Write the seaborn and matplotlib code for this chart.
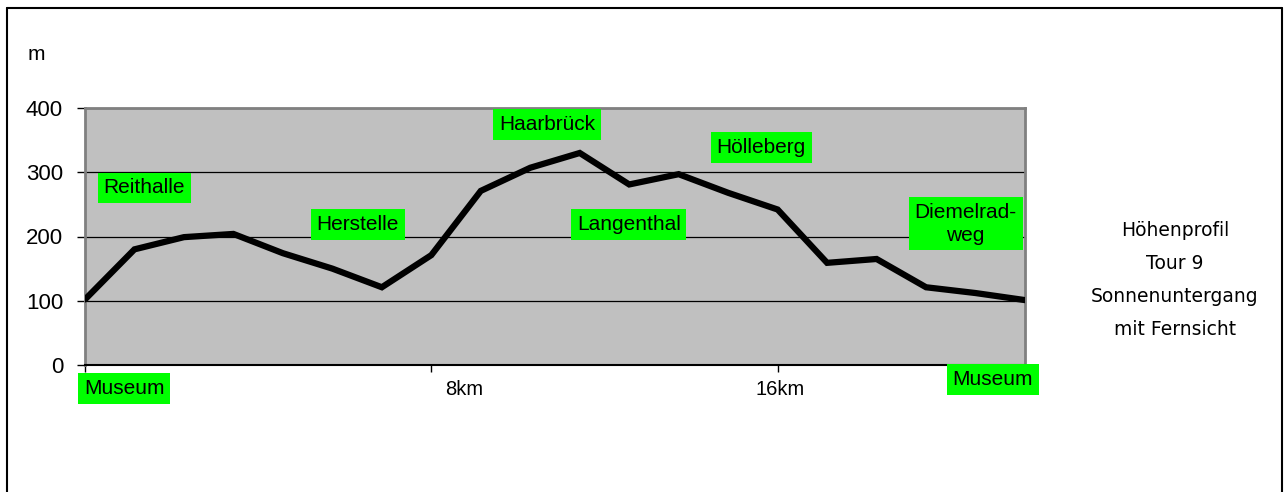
import matplotlib
matplotlib.use("Agg")
import matplotlib.pyplot as plt
import pandas as pd
import seaborn as sns
from matplotlib.lines import Line2D
from matplotlib.ticker import FixedLocator, NullFormatter, FixedFormatter

# ---- data ----
point_index = list(range(20))
elevation_m = [102, 180, 199, 204, 174, 150, 121, 171, 271, 307,
               330, 281, 297, 268, 242, 159, 165, 121, 112, 101]
y_ticks = [0, 100, 200, 300, 400]
km_tick_points = [0, 7, 14]
km_labels = ["8km", "16km"]
km_label_points = [7.66, 14.05]
place_names = ["Museum", "Reithalle", "Herstelle", "Haarbrück", "Langenthal",
               "Hölleberg", "Diemelrad-\nweg", "Museum"]
place_x = [0.79, 1.20, 5.51, 9.34, 10.99, 13.67, 17.80, 18.35]
place_y = [-36.6, 275.5, 218.7, 374, 218.7, 338.5, 220, -22.6]
title_lines = ["Höhenprofil", "Tour 9", "Sonnenuntergang", "mit Fernsicht"]

df = pd.DataFrame({"point": point_index, "elevation": elevation_m})

sns.set_style("white")
plt.rcParams["font.family"] = ["Liberation Sans", "DejaVu Sans"]
plt.rcParams["text.color"] = "black"
plt.rcParams["xtick.color"] = "black"
plt.rcParams["ytick.color"] = "black"
plt.rcParams["xtick.labelcolor"] = "black"
plt.rcParams["ytick.labelcolor"] = "black"

W, H = 1285, 492
fig = plt.figure(figsize=(W / 100, H / 100), dpi=100)
fig.patch.set_facecolor("white")
ax = fig.add_axes([85 / W, 1 - 365 / H, 940 / W, 257 / H])
ax.set_facecolor("#C0C0C0")

sns.lineplot(data=df, x="point", y="elevation", color="black", linewidth=4.5,
             ax=ax, zorder=3, solid_joinstyle="miter")
ax.set_xlim(0, 19)
ax.set_ylim(0, 400)
ax.set_xlabel("")
ax.set_ylabel("")

# y axis
ax.set_yticks(y_ticks)
ax.set_yticklabels([str(v) for v in y_ticks], fontsize=16, color="black")
ax.tick_params(axis="y", direction="out", length=5.8, width=1, color="black",
               pad=10, left=True, labelcolor="black")
ax.yaxis.grid(True, color="black", linewidth=0.9, zorder=1)
ax.xaxis.grid(False)
ax.set_axisbelow(True)

# x axis
ax.xaxis.set_major_locator(FixedLocator(km_tick_points))
ax.xaxis.set_major_formatter(NullFormatter())
ax.xaxis.set_minor_locator(FixedLocator(km_label_points))
ax.xaxis.set_minor_formatter(FixedFormatter(km_labels))
ax.tick_params(axis="x", which="major", direction="out", length=5, width=1,
               color="black", bottom=True)
ax.tick_params(axis="x", which="minor", length=0, labelsize=14.5, pad=10.5,
               bottom=True, labelcolor="black")

for s in ["left", "top", "right"]:
    ax.spines[s].set_color("#808080")
    ax.spines[s].set_linewidth(2)
ax.spines["bottom"].set_color("black")
ax.spines["bottom"].set_linewidth(1.5)

# place labels
for name, px, py in zip(place_names, place_x, place_y):
    ax.text(px, py, name, ha="center", va="center", fontsize=15,
            color="black", zorder=5, clip_on=False, linespacing=1.25,
            bbox=dict(boxstyle="square,pad=0.28", facecolor="#00FF00",
                      edgecolor="none"))

# unit label
fig.text(36 / W, 1 - 55 / H, "m", ha="center", va="center", fontsize=15,
         color="black")

# side title
baselines = [236, 269, 302, 335]
for line, b in zip(title_lines, baselines):
    fig.text(1175 / W, 1 - b / H, line, ha="center", va="baseline",
             fontsize=13.5, family=["DejaVu Sans"], color="black")

# outer frame
for xs, ys in [([7, 7], [H, 8]), ([7, 1282], [8, 8]), ([1282, 1282], [8, H])]:
    fig.add_artist(Line2D([x / W for x in xs], [1 - y / H for y in ys],
                          transform=fig.transFigure, color="black",
                          linewidth=1.5))

fig.savefig("out.png", dpi=100)
